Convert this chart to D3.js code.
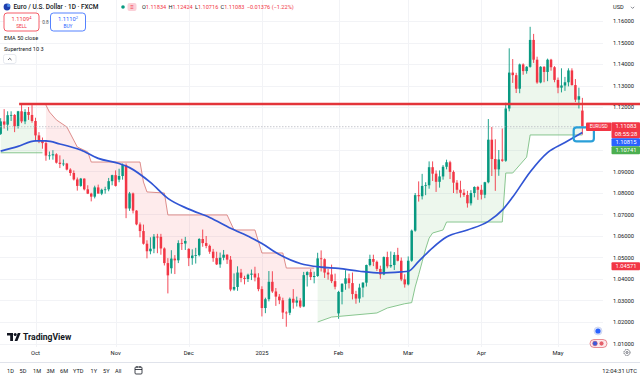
<!DOCTYPE html>
<html><head><meta charset="utf-8">
<script src="https://cdn.jsdelivr.net/npm/d3@7"></script>
<style>
html,body{margin:0;padding:0;background:#fff;}
svg{display:block;font-family:Roboto,"Noto Sans",sans-serif;}
</style></head><body>
<svg id="chart" width="640" height="380"></svg>
<script>
// ---- data (daily bars, Sep 17 2024 -> May 12 2025, holidays Dec 25 / Jan 1 skipped) ----
const openP = [1.1075,1.1133,1.1118,1.1162,1.1163,1.1111,1.1180,1.1133,1.1177,1.1163,
1.1135,1.1068,1.1045,1.1032,1.0974,1.0975,1.0980,1.0941,1.0935,1.0937,
1.0909,1.0893,1.0863,1.0833,1.0867,1.0817,1.0797,1.0783,1.0826,1.0797,
1.0815,1.0817,1.0855,1.0883,1.0862,1.0879,1.0930,1.0728,1.0798,1.0718,
1.0654,1.0623,1.0564,1.0529,1.0541,1.0597,1.0596,1.0542,1.0474,1.0450,
1.0495,1.0487,1.0567,1.0565,1.0540,1.0497,1.0509,1.0511,1.0586,1.0567,
1.0554,1.0527,1.0497,1.0468,1.0499,1.0513,1.0490,1.0351,1.0363,1.0430,
1.0405,1.0400,1.0420,1.0425,1.0407,1.0353,1.0265,1.0306,1.0387,1.0342,
1.0318,1.0301,1.0244,1.0243,1.0308,1.0290,1.0300,1.0272,1.0418,1.0432,
1.0409,1.0414,1.0496,1.0492,1.0430,1.0421,1.0390,1.0240,1.0340,1.0378,
1.0403,1.0381,1.0330,1.0309,1.0360,1.0383,1.0465,1.0493,1.0480,1.0447,
1.0421,1.0502,1.0459,1.0465,1.0512,1.0485,1.0398,1.0375,1.0485,1.0625,
1.0790,1.0785,1.0833,1.0836,1.0920,1.0890,1.0852,1.0877,1.0922,1.0943,
1.0898,1.0848,1.0815,1.0801,1.0791,1.0752,1.0800,1.0828,1.0815,1.0792,
1.0850,1.1048,1.0958,1.0910,1.0956,1.0950,1.1193,1.1360,1.1348,1.1285,
1.1398,1.1367,1.1387,1.1512,1.1420,1.1314,1.1387,1.1363,1.1420,1.1385,
1.1326,1.1290,1.1300,1.1315,1.1370,1.1302,1.1234,1.11834];
const highP = [1.1148,1.1190,1.1180,1.1180,1.1167,1.1182,1.1214,1.1190,1.1200,1.1209,
1.1150,1.1083,1.1058,1.1045,1.0993,1.0999,1.0985,1.0975,1.0956,1.0940,
1.0915,1.0905,1.0872,1.0870,1.0868,1.0836,1.0801,1.0834,1.0839,1.0820,
1.0829,1.0870,1.0885,1.0905,1.0913,1.0937,1.0937,1.0805,1.0802,1.0720,
1.0663,1.0653,1.0580,1.0594,1.0609,1.0610,1.0610,1.0547,1.0497,1.0534,
1.0511,1.0580,1.0587,1.0596,1.0543,1.0538,1.0545,1.0590,1.0630,1.0600,
1.0560,1.0540,1.0527,1.0523,1.0535,1.0515,1.0507,1.0426,1.0459,1.0447,
1.0415,1.0425,1.0444,1.0457,1.0427,1.0366,1.0313,1.0437,1.0436,1.0358,
1.0330,1.0313,1.0250,1.0314,1.0353,1.0318,1.0311,1.0433,1.0436,1.0446,
1.0434,1.0522,1.0533,1.0496,1.0447,1.0467,1.0425,1.0345,1.0380,1.0441,
1.0425,1.0430,1.0345,1.0378,1.0385,1.0467,1.0513,1.0513,1.0486,1.0462,
1.0505,1.0527,1.0528,1.0525,1.0545,1.0500,1.0422,1.0505,1.0630,1.0800,
1.0854,1.0889,1.0850,1.0947,1.0947,1.0905,1.0905,1.0930,1.0955,1.0950,
1.0905,1.0860,1.0857,1.0818,1.0810,1.0813,1.0831,1.0833,1.0838,1.0852,
1.1144,1.1107,1.1050,1.1000,1.1100,1.1220,1.1473,1.1423,1.1359,1.1402,
1.1403,1.1390,1.1573,1.1540,1.1434,1.1390,1.1390,1.1425,1.1424,1.1390,
1.1337,1.1380,1.1340,1.1380,1.1380,1.1330,1.1290,1.12424];
const lowP = [1.1070,1.1100,1.1090,1.1135,1.1083,1.1100,1.1125,1.1120,1.1140,1.1127,
1.1041,1.1032,1.1006,1.0950,1.0955,1.0955,1.0937,1.0916,1.0925,1.0905,
1.0880,1.0858,1.0811,1.0829,1.0812,1.0795,1.0761,1.0775,1.0799,1.0790,
1.0797,1.0808,1.0836,1.0830,1.0850,1.0862,1.0683,1.0717,1.0705,1.0650,
1.0594,1.0560,1.0496,1.0515,1.0520,1.0520,1.0513,1.0463,1.0333,1.0425,
1.0423,1.0474,1.0535,1.0535,1.0460,1.0466,1.0472,1.0505,1.0550,1.0543,
1.0517,1.0480,1.0465,1.0452,1.0487,1.0470,1.0343,1.0345,1.0345,1.0385,
1.0375,1.0386,1.0395,1.0389,1.0343,1.0226,1.0241,1.0296,1.0335,1.0275,
1.0283,1.0214,1.0178,1.0232,1.0262,1.0272,1.0265,1.0269,1.0365,1.0395,
1.0380,1.0410,1.0435,1.0405,1.0397,1.0381,1.0352,1.0215,1.0282,1.0350,
1.0356,1.0305,1.0285,1.0290,1.0315,1.0365,1.0459,1.0460,1.0437,1.0401,
1.0418,1.0450,1.0452,1.0442,1.0482,1.0390,1.0360,1.0370,1.0480,1.0620,
1.0760,1.0770,1.0790,1.0820,1.0856,1.0805,1.0825,1.0862,1.0910,1.0865,
1.0800,1.0797,1.0779,1.0782,1.0732,1.0742,1.0780,1.0768,1.0770,1.0776,
1.0845,1.0879,1.0810,1.0880,1.0945,1.0945,1.1180,1.1312,1.1265,1.1264,
1.1350,1.1355,1.1383,1.1405,1.1308,1.1310,1.1315,1.1320,1.1369,1.1315,
1.1264,1.1268,1.1275,1.1296,1.1300,1.1223,1.1193,1.10716];
const closeP = [1.1133,1.1118,1.1162,1.1163,1.1111,1.1180,1.1133,1.1177,1.1163,1.1135,
1.1068,1.1045,1.1032,1.0974,1.0975,1.0980,1.0941,1.0935,1.0937,1.0909,
1.0893,1.0863,1.0833,1.0867,1.0817,1.0797,1.0783,1.0826,1.0797,1.0815,
1.0817,1.0855,1.0883,1.0833,1.0879,1.0930,1.0728,1.0798,1.0718,1.0654,
1.0623,1.0564,1.0529,1.0541,1.0597,1.0596,1.0542,1.0474,1.0417,1.0495,
1.0487,1.0567,1.0565,1.0577,1.0497,1.0509,1.0511,1.0586,1.0567,1.0554,
1.0527,1.0497,1.0468,1.0499,1.0513,1.0490,1.0351,1.0363,1.0430,1.0405,
1.0400,1.0420,1.0425,1.0407,1.0353,1.0265,1.0306,1.0387,1.0342,1.0318,
1.0301,1.0244,1.0243,1.0308,1.0290,1.0300,1.0272,1.0418,1.0432,1.0409,
1.0414,1.0496,1.0492,1.0430,1.0421,1.0390,1.0364,1.0340,1.0378,1.0403,
1.0381,1.0330,1.0309,1.0360,1.0383,1.0465,1.0493,1.0480,1.0447,1.0421,
1.0502,1.0459,1.0465,1.0512,1.0485,1.0398,1.0375,1.0485,1.0625,1.0790,
1.0785,1.0833,1.0836,1.0920,1.0890,1.0852,1.0877,1.0922,1.0943,1.0898,
1.0848,1.0815,1.0801,1.0791,1.0752,1.0800,1.0828,1.0815,1.0792,1.0850,
1.1048,1.0958,1.0910,1.0956,1.0950,1.1193,1.1360,1.1348,1.1285,1.1398,
1.1367,1.1387,1.1512,1.1420,1.1314,1.1387,1.1363,1.1420,1.1385,1.1326,
1.1290,1.1300,1.1315,1.1370,1.1302,1.1234,1.1250,1.11083];

const monthLabels = ['Oct','Nov','Dec','2025','Feb','Mar','Apr','May'];
const monthIndex  = [10,33,54,75,97,117,138,160];
const priceTicks  = [1.01,1.02,1.03,1.04,1.05,1.06,1.07,1.08,1.09,1.10,1.11,1.12,1.13,1.14,1.15,1.16];

// EMA 50
const emaIndex = [0,5,10,13,17,23,28,34,37,43,48,54,60,66,72,75,80,86,92,97,103,109,115,117,120,124,128,134,140,144,147,152,157,162,167];
const emaValue = [1.0995,1.1017,1.1042,1.1042,1.1028,1.1000,1.0961,1.0937,1.0918,1.0849,1.0775,1.0725,1.0686,1.0636,1.0591,1.0565,1.0514,1.0472,1.0455,1.0449,1.0436,1.0428,1.0433,1.0436,1.0482,1.0545,1.0595,1.0628,1.0668,1.0720,1.0781,1.0898,1.0988,1.1035,1.10815];

// Supertrend 10 3 : breakpoints, trend per breakpoint
const stIndex = [0,12, 13,14,16,19,22,25,26,40,41,42,47,48,65,67,73,75,81,82,90,
                 91,95,108,111,116,118,119,120,121,122,123,124,127,128,144,145,147,151,152,167];
const stValue = [1.0987,1.0987, 1.1209,1.1177,1.1140,1.1107,1.1014,1.0991,1.0944,1.0944,1.0851,1.0805,1.0800,1.0698,1.0698,1.0628,1.0628,1.0521,1.0521,1.0451,1.0451,
                 1.0200,1.0223,1.0242,1.0265,1.0285,1.0290,1.0363,1.0420,1.0480,1.0540,1.0590,1.0614,1.0628,1.0665,1.0665,1.0893,1.0893,1.0967,1.1070,1.1070];
const stTrend = ['up','up', 'down','down','down','down','down','down','down','down','down','down','down','down','down','down','down','down','down','down','down',
                 'up','up','up','up','up','up','up','up','up','up','up','up','up','up','up','up','up','up','up','up'];

const resistanceLevel = 1.1214, resistanceFrom = 5.3;
const lastPrice = 1.11083;
const boxIdx = [164.5, 170.3], boxPrice = [1.1105, 1.1040];
const axisTags = [
  {v:1.11083, color:'#f23645', lines:['1.11083','08:55:28']},
  {v:1.10815, color:'#2962ff', lines:['1.10815']},
  {v:1.10741, color:'#4caf50', lines:['1.10741']},
  {v:1.04571, color:'#f23645', lines:['1.04571']}
];

// ---- scales ----
const svg = d3.select('#chart');
const W = 640, H = 380, plotR = 603, plotB = 347;
const x = d3.scaleLinear().domain([10,160]).range([35.5,558]);
const y = d3.scaleLinear().domain([1.01,1.16]).range([343.5,21]);
const fmt = d3.format('.5f');
const UP = '#089981', DN = '#f23645', TXT = '#131722';

svg.append('rect').attr('width',W).attr('height',H).attr('fill','#fff');
svg.append('clipPath').attr('id','clip').append('rect').attr('x',0).attr('y',0).attr('width',plotR).attr('height',plotB);

// grid
const grid = svg.append('g').attr('clip-path','url(#clip)');
grid.selectAll('line.h').data(priceTicks).join('line')
  .attr('x1',0).attr('x2',plotR).attr('y1',d=>Math.round(y(d))+0.5).attr('y2',d=>Math.round(y(d))+0.5)
  .attr('stroke','#f2f3f6').attr('stroke-width',1);
grid.selectAll('line.v').data(monthIndex).join('line')
  .attr('y1',0).attr('y2',plotB).attr('x1',d=>Math.round(x(d))+0.5).attr('x2',d=>Math.round(x(d))+0.5)
  .attr('stroke','#f2f3f6').attr('stroke-width',1);

const plot = svg.append('g').attr('clip-path','url(#clip)');
const bars = d3.range(openP.length);
const mid = i => (openP[i]+closeP[i])/2;

// supertrend segments
const segs = [];
stIndex.forEach((idx,k)=>{
  if(k===0 || stTrend[k]!==stTrend[k-1]) segs.push({trend:stTrend[k], pts:[]});
  segs[segs.length-1].pts.push([idx, stValue[k]]);
});
const line = d3.line();
segs.forEach(s=>{
  const a = s.pts[0][0], b = s.pts[s.pts.length-1][0];
  const top = s.pts.map(p=>[x(p[0]), y(p[1])]);
  const bottom = d3.range(b, a-1, -1).map(i=>[x(i), y(mid(i))]);
  plot.append('path').attr('d', line(top.concat(bottom))+'Z')
    .attr('fill', s.trend==='up' ? 'rgba(76,175,80,0.10)' : 'rgba(242,54,69,0.10)');
});

// candles
const cg = plot.append('g');
cg.selectAll('line').data(bars).join('line')
  .attr('x1',i=>x(i)).attr('x2',i=>x(i)).attr('y1',i=>y(highP[i])).attr('y2',i=>y(lowP[i]))
  .attr('stroke',i=>closeP[i]>=openP[i]?UP:DN).attr('stroke-width',0.9);
cg.selectAll('rect').data(bars).join('rect')
  .attr('x',i=>x(i)-1.25).attr('width',2.5)
  .attr('y',i=>y(Math.max(openP[i],closeP[i])))
  .attr('height',i=>Math.max(0.8, Math.abs(y(openP[i])-y(closeP[i]))))
  .attr('fill',i=>closeP[i]>=openP[i]?UP:DN);

// supertrend lines
segs.forEach(s=>{
  plot.append('path').attr('d', line(s.pts.map(p=>[x(p[0]),y(p[1])])))
    .attr('fill','none').attr('stroke', s.trend==='up' ? '#7cbf83' : '#d9817f').attr('stroke-width',0.9);
});

// EMA
plot.append('path').datum(emaIndex.map((d,k)=>[x(d), y(emaValue[k])]))
  .attr('d', d3.line().curve(d3.curveMonotoneX))
  .attr('fill','none').attr('stroke','#3155d4').attr('stroke-width',1.7);

// current price dotted line
svg.append('line').attr('x1',0).attr('x2',586).attr('y1',y(lastPrice)).attr('y2',y(lastPrice))
  .attr('stroke','#b7bac2').attr('stroke-width',0.8).attr('stroke-dasharray','1.5,1.5');

// resistance line (extends across the price scale)
svg.append('line').attr('x1',x(resistanceFrom)).attr('x2',W).attr('y1',y(resistanceLevel)).attr('y2',y(resistanceLevel))
  .attr('stroke','#e3343a').attr('stroke-width',2.6);

// annotation box
svg.append('rect').attr('x',x(boxIdx[0])).attr('y',y(boxPrice[0]))
  .attr('width',x(boxIdx[1])-x(boxIdx[0])).attr('height',y(boxPrice[1])-y(boxPrice[0]))
  .attr('rx',3).attr('fill','none').attr('stroke','#2a9fd8').attr('stroke-width',2.2);

// coloured value tags with stacking (computed first so hidden ticks can be skipped)
let lastBottom = -1e9;
const tagBoxes = axisTags.map(t=>{
  const h = t.lines.length===2 ? 16 : 8;
  let top = y(t.v) - 4.5;
  if (top < lastBottom) top = lastBottom;
  lastBottom = top + h;
  return {t, top, h};
});
const visibleTicks = priceTicks.filter(d=>!tagBoxes.some(b=> y(d)+3 > b.top && y(d)-3 < b.top+b.h));

// price axis labels
const pa = svg.append('g').attr('font-size',5.8).attr('fill',TXT);
pa.selectAll('text').data(visibleTicks).join('text')
  .attr('x',613).attr('y',d=>y(d)).attr('dy','0.35em').text(d=>fmt(d));

// symbol tag
svg.append('rect').attr('x',586).attr('y',y(lastPrice)-4.3).attr('width',25.5).attr('height',8.6).attr('rx',1).attr('fill','#f23645');
svg.append('text').attr('x',598.7).attr('y',y(lastPrice)).attr('dy','0.35em').attr('text-anchor','middle')
  .attr('font-size',4.8).attr('fill','#fff').text('EURUSD');

tagBoxes.forEach(({t,top,h})=>{
  svg.append('rect').attr('x',611.5).attr('y',top).attr('width',28.5).attr('height',h).attr('rx',1).attr('fill',t.color);
  t.lines.forEach((s,k)=>{
    svg.append('text').attr('x',626).attr('y',top+4.2+k*7.5).attr('dy','0.35em').attr('text-anchor','middle')
      .attr('font-size',5.8).attr('fill','#fff').text(s);
  });
});

// time axis labels
svg.append('g').attr('font-size',5.8).attr('fill',TXT).selectAll('text').data(monthIndex).join('text')
  .attr('x',d=>x(d)).attr('y',355).attr('text-anchor','middle').text((d,k)=>monthLabels[k]);

// gear icon
svg.append('circle').attr('cx',627).attr('cy',352.5).attr('r',3).attr('fill','none').attr('stroke','#50535e').attr('stroke-width',0.9).attr('stroke-dasharray','1.3,0.6');
svg.append('circle').attr('cx',627).attr('cy',352.5).attr('r',1).attr('fill','none').attr('stroke','#50535e').attr('stroke-width',0.8);

// bottom toolbar
svg.append('line').attr('x1',0).attr('x2',W).attr('y1',362.5).attr('y2',362.5).attr('stroke','#e0e3eb').attr('stroke-width',1);
const tb = ['1D','5D','1M','3M','6M','YTD','1Y','5Y','All'];
const tbx = [7,19.5,33,46.5,60,73,90.5,103,115];
svg.append('g').attr('font-size',5.6).attr('fill',TXT).selectAll('text').data(tb).join('text')
  .attr('x',(d,k)=>tbx[k]).attr('y',373).text(d=>d);
const cal = svg.append('g').attr('fill','none').attr('stroke','#131722').attr('stroke-width',0.8);
cal.append('rect').attr('x',135).attr('y',367).attr('width',7).attr('height',7).attr('rx',1);
cal.append('line').attr('x1',135).attr('x2',142).attr('y1',369.5).attr('y2',369.5);
cal.append('line').attr('x1',137).attr('x2',137).attr('y1',366).attr('y2',368);
cal.append('line').attr('x1',140).attr('x2',140).attr('y1',366).attr('y2',368);
svg.append('text').attr('x',637).attr('y',373).attr('text-anchor','end').attr('font-size',5.8).attr('fill',TXT).text('12:04:31 UTC');

// event flags near axis
svg.append('circle').attr('cx',598).attr('cy',331).attr('r',4).attr('fill','#dfe6fb').attr('stroke','#c2cbe8').attr('stroke-width',0.6);
svg.append('circle').attr('cx',598).attr('cy',331).attr('r',2.6).attr('fill','#2962ff');
svg.append('rect').attr('x',590).attr('y',339.5).attr('width',17).attr('height',8).attr('rx',4).attr('fill','#fde8ea').attr('stroke','#e0606a').attr('stroke-width',0.7);
svg.append('circle').attr('cx',595).attr('cy',343.5).attr('r',2.4).attr('fill','#3b5bdb').attr('stroke','#e0606a').attr('stroke-width',0.5);
svg.append('circle').attr('cx',601.5).attr('cy',343.5).attr('r',2.4).attr('fill','#e4606b').attr('stroke','#fff').attr('stroke-width',0.5);

// TradingView logo
const logo = svg.append('g').attr('fill','#131722');
logo.append('path').attr('d','M7,333 H13 V341 H10.2 V335.6 H7 Z');
logo.append('circle').attr('cx',15.2).attr('cy',334.6).attr('r',1.5);
logo.append('path').attr('d','M17.8,333 H20.6 L17.4,341 H14.6 Z');
svg.append('text').attr('x',23).attr('y',340.2).attr('font-size',8.6).attr('font-weight',700).attr('fill','#131722').text('TradingView');

// top-right currency
svg.append('text').attr('x',613).attr('y',9.2).attr('font-size',5.6).attr('fill',TXT).text('USD');
svg.append('path').attr('d','M631,6.8 L632.6,8.4 L634.2,6.8').attr('fill','none').attr('stroke','#50535e').attr('stroke-width',0.7);

// legend
svg.append('circle').attr('cx',7).attr('cy',7).attr('r',3.4).attr('fill','#1e3fae');
svg.append('circle').attr('cx',8.6).attr('cy',5.4).attr('r',1.6).attr('fill','#4a8be8');
svg.append('text').attr('x',13.5).attr('y',9.3).attr('font-size',6.5).attr('font-weight',500).attr('fill',TXT).text('Euro / U.S. Dollar · 1D · FXCM');
svg.append('circle').attr('cx',123).attr('cy',7).attr('r',1.8).attr('fill','#089981');
svg.append('rect').attr('x',127.5).attr('y',3).attr('width',9).attr('height',8).attr('rx',2).attr('fill','#fbd0d8');
svg.append('text').attr('x',132).attr('y',9.3).attr('text-anchor','middle').attr('font-size',6).attr('fill','#f23645').text('≡');
const ohlc = svg.append('text').attr('x',142).attr('y',9.3).attr('font-size',5.6);
[['O','1.11834'],['H','1.12424'],['L','1.10716'],['C','1.11083']].forEach((p,k)=>{
  ohlc.append('tspan').attr('fill',TXT).attr('dx',k?2.2:0).text(p[0]);
  ohlc.append('tspan').attr('fill','#f23645').text(p[1]);
});
ohlc.append('tspan').attr('fill','#f23645').attr('dx',2.2).text('−0.01376 (−1.22%)');

function tradeBox(x0, color, main, sup, label){
  svg.append('rect').attr('x',x0).attr('y',13).attr('width',35).attr('height',18).attr('rx',3)
    .attr('fill','#fff').attr('stroke',color).attr('stroke-width',0.8);
  const t = svg.append('text').attr('x',x0+17.5).attr('y',21).attr('text-anchor','middle').attr('font-size',5.8).attr('fill',color);
  t.append('tspan').text(main);
  t.append('tspan').attr('font-size',4).attr('dy',-1.6).text(sup);
  svg.append('text').attr('x',x0+17.5).attr('y',28).attr('text-anchor','middle').attr('font-size',4.8).attr('fill',color).text(label);
}
tradeBox(4,'#f23645','1.1109','4','SELL');
tradeBox(50.5,'#2962ff','1.1110','2','BUY');
svg.append('text').attr('x',45.5).attr('y',23.5).attr('text-anchor','middle').attr('font-size',4.8).attr('fill','#50535e').text('0.8');
svg.append('text').attr('x',4).attr('y',39.5).attr('font-size',5.6).attr('fill',TXT).text('EMA 50 close');
svg.append('text').attr('x',4).attr('y',50.5).attr('font-size',5.6).attr('fill',TXT).text('Supertrend 10 3');
svg.append('rect').attr('x',3.5).attr('y',54.5).attr('width',12.5).attr('height',9).attr('rx',2).attr('fill','#fff').attr('stroke','#e0e3eb').attr('stroke-width',0.8);
svg.append('path').attr('d','M8,60 L9.75,58.3 L11.5,60').attr('fill','none').attr('stroke','#131722').attr('stroke-width',0.7);
</script>
</body></html>
